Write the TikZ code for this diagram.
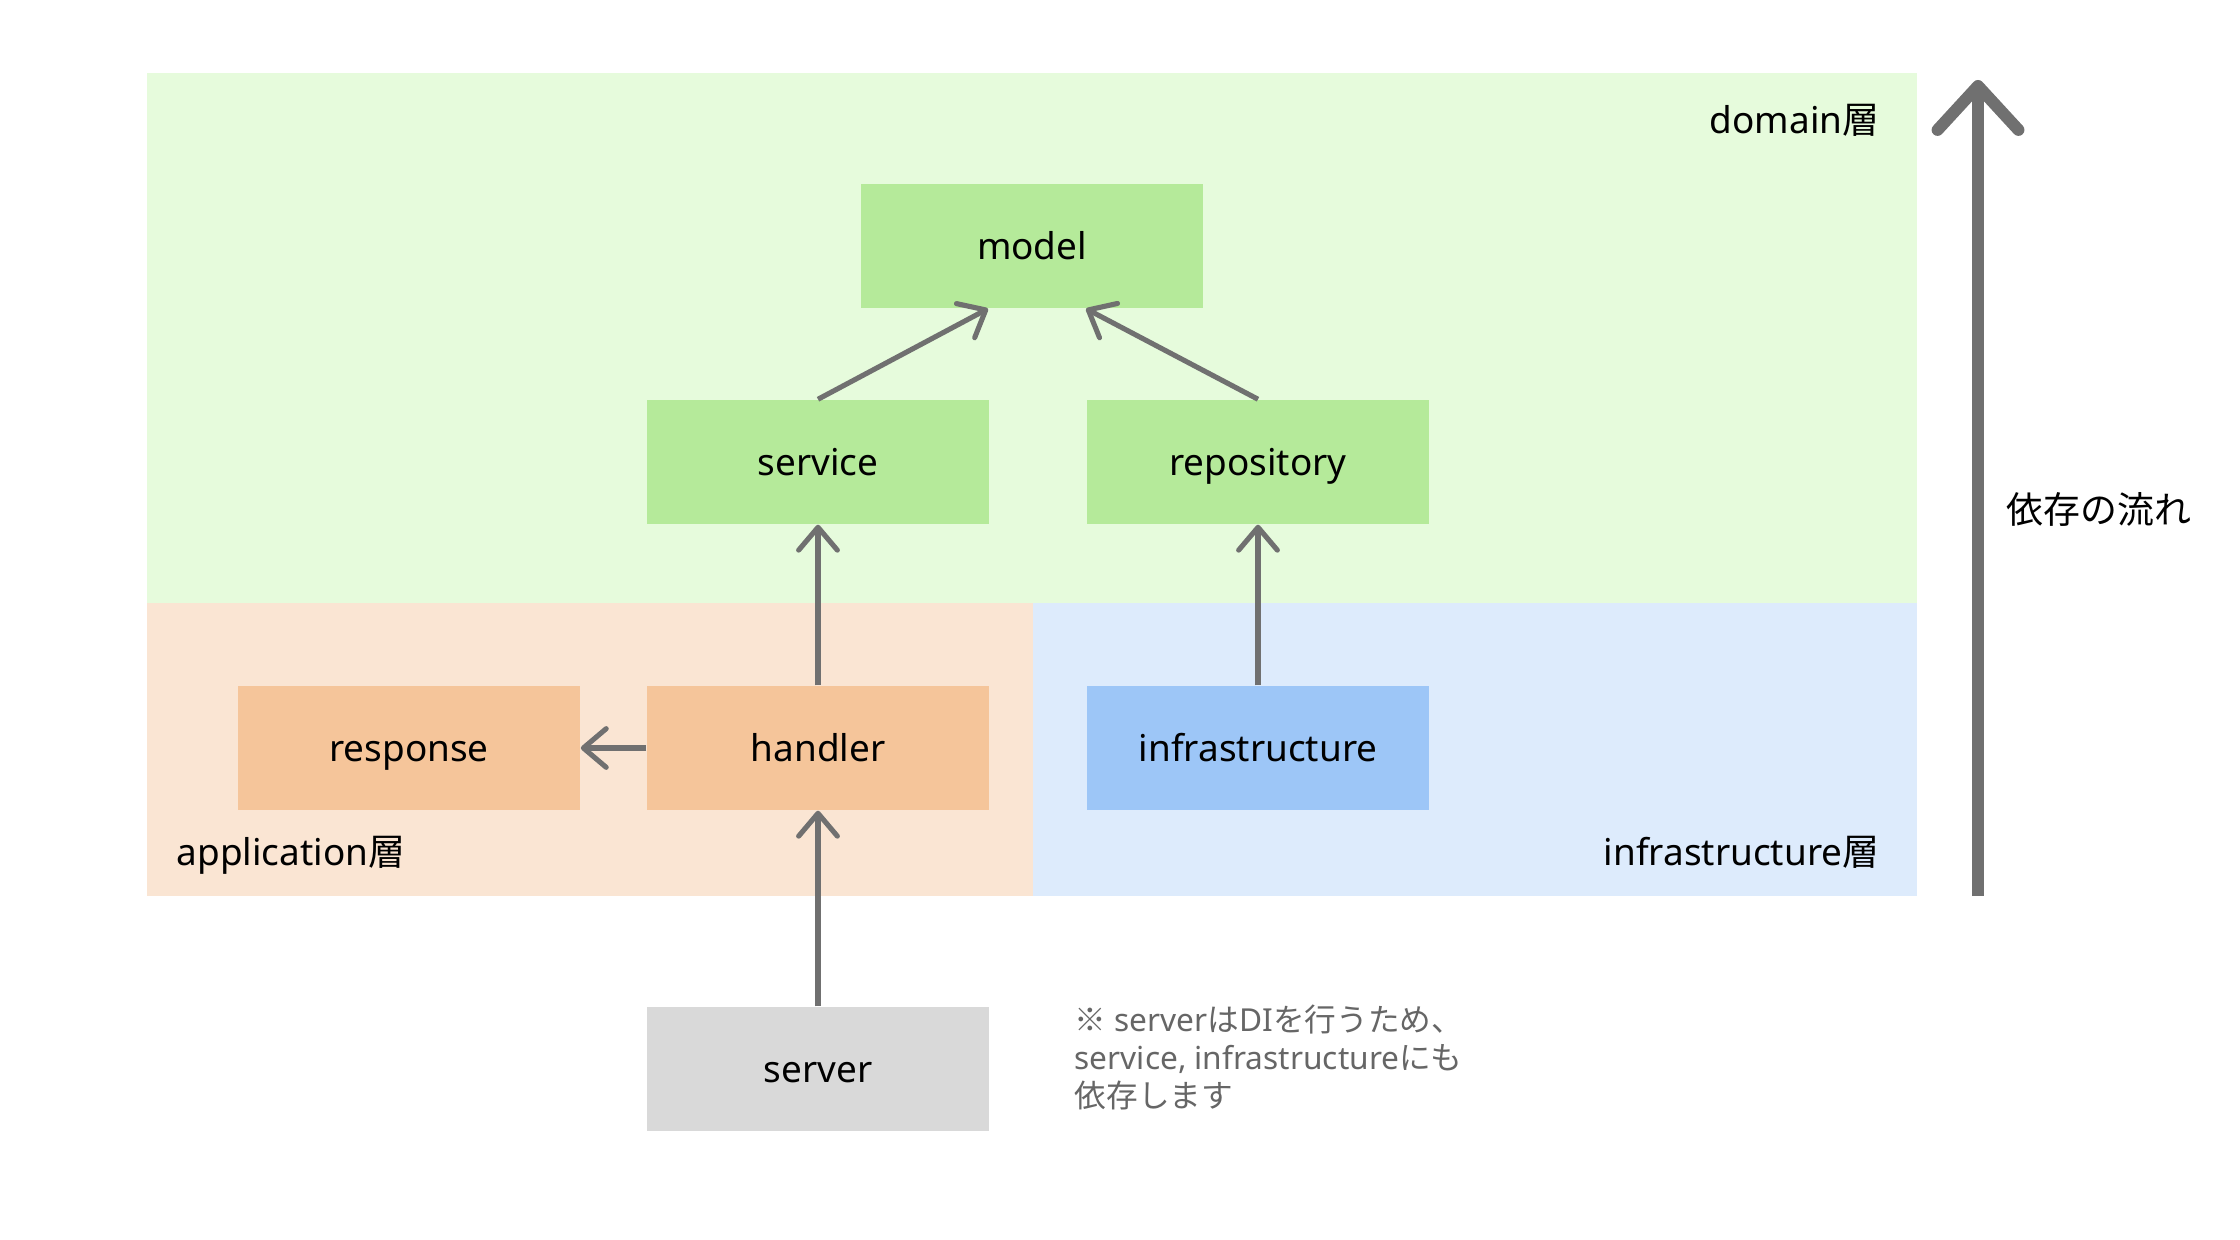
\documentclass[tikz,border=0pt]{standalone}
\usepackage{fontspec}
\setmainfont{Noto Sans}
\newfontfamily\jp{Noto Sans CJK JP}
\usepackage{tikz}
\usetikzlibrary{arrows.meta}
\definecolor{domainbg}{HTML}{E6FBDC}
\definecolor{domainbox}{HTML}{B5EA9A}
\definecolor{appbg}{HTML}{FAE5D3}
\definecolor{appbox}{HTML}{F5C59A}
\definecolor{infrabg}{HTML}{DDEBFC}
\definecolor{infrabox}{HTML}{9DC6F7}
\definecolor{serverbox}{HTML}{D9D9D9}
\definecolor{arrgray}{HTML}{707070}
\definecolor{notegray}{HTML}{666666}

\begin{document}
\begin{tikzpicture}[
    x=0.01cm, y=-0.01cm,
    box/.style={rectangle, minimum width=3.42cm, minimum height=1.24cm, text height=0.86em, text depth=0.12em, font=\fontsize{10.5}{13}\selectfont, text=black},
    layer/.style={font=\fontsize{10.5}{13}\selectfont, inner sep=0pt, text height=0.86em, text depth=0.12em, text=black},
    arr/.style={-{Straight Barb[length=6.5pt, width=11pt, round]}, line width=1.45pt, arrgray},
    bigarr/.style={-{Straight Barb[length=12.5pt, width=23pt, round]}, line width=3.4pt, arrgray}
]
\useasboundingbox (0,0) rectangle (2240,1240);

% Layers
\fill[domainbg] (147,73) rectangle (1917,603);
\fill[appbg] (147,603) rectangle (1033,896);
\fill[infrabg] (1033,603) rectangle (1917,896);
\node[layer, anchor=east] (domainlbl) at (1880,120) {domain{\jp 層}};
\node[layer, anchor=west] (applbl) at (176,852) {application{\jp 層}};
\node[layer, anchor=east] (infralbl) at (1880,852) {infrastructure{\jp 層}};

% Packages
\node[box, fill=domainbox] (model) at (1032,246) {model};
\node[box, fill=domainbox] (service) at (818,462) {service};
\node[box, fill=domainbox] (repository) at (1258,462) {repository};
\node[box, fill=appbox] (response) at (409,748) {response};
\node[box, fill=appbox] (handler) at (818,748) {handler};
\node[box, fill=infrabox] (infra) at (1258,748) {infrastructure};
\node[box, fill=serverbox] (server) at (818,1069) {server};

\draw[arr] (service.north) -- ([xshift=-0.44cm]model.south);
\draw[arr] (repository.north) -- ([xshift=0.54cm]model.south);
\draw[arr] (handler.north) -- (service.south);
\draw[arr] (infra.north) -- (repository.south);
\draw[arr] (handler.west) -- (response.east);
\draw[arr] (server.north) -- (handler.south);

% Dependency direction
\coordinate (flowbot) at (1978,896);
\coordinate (flowtop) at (1978,80);
\draw[bigarr] (flowbot) -- (flowtop);
\node[layer, anchor=west] (flowlbl) at (2006,510) {\jp 依存の流れ};

\node[anchor=west, align=left, inner sep=0pt, text=notegray, font=\fontsize{9}{10.8}\selectfont] (note) at (1074,1057)
  {{\jp ※} server{\jp は}DI{\jp を行うため、}\\service, infrastructure{\jp にも}\\{\jp 依存します}};
\end{tikzpicture}
\end{document}
